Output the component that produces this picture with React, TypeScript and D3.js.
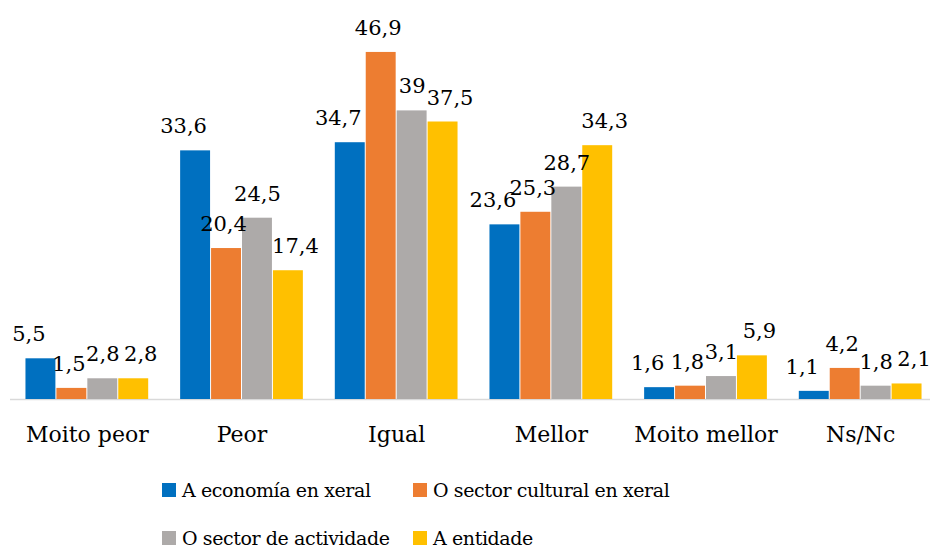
import React, { useEffect, useRef } from 'react';
import * as d3 from 'd3';

const categories = ['Moito peor', 'Peor', 'Igual', 'Mellor', 'Moito mellor', 'Ns/Nc'];
const seriesNames = [
  'A economía en xeral',
  'O sector cultural en xeral',
  'O sector de actividade',
  'A entidade',
];
const economia = [5.5, 33.6, 34.7, 23.6, 1.6, 1.1];
const cultural = [1.5, 20.4, 46.9, 25.3, 1.8, 4.2];
const actividade = [2.8, 24.5, 39, 28.7, 3.1, 1.8];
const entidade = [2.8, 17.4, 37.5, 34.3, 5.9, 2.1];
const seriesValues = [economia, cultural, actividade, entidade];
const colors = ['#0070C0', '#ED7D31', '#ADAAA9', '#FFC000'];

const FONT = '"DejaVu Serif", serif';

const App: React.FC = () => {
  const svgRef = useRef<SVGSVGElement>(null);

  useEffect(() => {
    if (!svgRef.current) return;
    const width = 930;
    const height = 548;
    const baseline = 399;

    d3.select(svgRef.current).selectAll('*').remove();
    const svg = d3.select(svgRef.current).attr('width', width).attr('height', height);

    const x0 = d3
      .scaleBand<string>()
      .domain(categories)
      .range([10, 938])
      .paddingInner(0.2)
      .paddingOuter(0.1);

    const x1 = d3
      .scaleBand<number>()
      .domain(d3.range(seriesNames.length))
      .range([0, x0.bandwidth()]);

    const y = d3.scaleLinear().domain([0, 50]).range([baseline, 29]);

    const rows = categories.flatMap((c, i) =>
      seriesValues.map((vals, s) => ({ cat: c, s, value: vals[i] }))
    );

    // axis line
    svg
      .append('line')
      .attr('x1', 10)
      .attr('x2', width)
      .attr('y1', baseline + 0.5)
      .attr('y2', baseline + 0.5)
      .attr('stroke', '#D9D9D9')
      .attr('stroke-width', 1.5);

    // bars
    svg
      .append('g')
      .selectAll('rect')
      .data(rows)
      .enter()
      .append('rect')
      .attr('x', (d) => (x0(d.cat) || 0) + (x1(d.s) || 0))
      .attr('y', (d) => y(d.value))
      .attr('width', x1.bandwidth() - 1)
      .attr('height', (d) => baseline - y(d.value))
      .attr('fill', (d) => colors[d.s]);

    // value labels, outer series nudged outward like the original
    const shift = [-12, -3, 0, 7];
    svg
      .append('g')
      .selectAll('text')
      .data(rows)
      .enter()
      .append('text')
      .attr('x', (d) => (x0(d.cat) || 0) + (x1(d.s) || 0) + x1.bandwidth() / 2 + shift[d.s])
      .attr('y', (d) => y(d.value) - 17)
      .attr('text-anchor', 'middle')
      .attr('font-family', FONT)
      .attr('font-size', 21)
      .attr('fill', '#000')
      .text((d) => String(d.value).replace('.', ','));

    // category labels
    svg
      .append('g')
      .selectAll('text')
      .data(categories)
      .enter()
      .append('text')
      .attr('x', (d) => (x0(d) || 0) + x0.bandwidth() / 2)
      .attr('y', 442)
      .attr('text-anchor', 'middle')
      .attr('font-family', FONT)
      .attr('font-size', 22)
      .attr('fill', '#000')
      .text((d) => d);

    // legend
    const legendPos = [
      [162, 497],
      [413, 497],
      [162, 545],
      [413, 545],
    ];
    const legend = svg
      .append('g')
      .selectAll('g')
      .data(seriesNames)
      .enter()
      .append('g')
      .attr('transform', (_d, i) => `translate(${legendPos[i][0]},${legendPos[i][1]})`);

    legend
      .append('rect')
      .attr('x', 0)
      .attr('y', -14)
      .attr('width', 14)
      .attr('height', 14)
      .attr('fill', (_d, i) => colors[i]);

    legend
      .append('text')
      .attr('x', 20)
      .attr('y', 0)
      .attr('font-family', FONT)
      .attr('font-size', 19)
      .attr('letter-spacing', -0.4)
      .attr('fill', '#000')
      .text((d) => d);
  }, []);

  return (
    <div style={{ position: 'absolute', left: 0, top: 0, width: 930, height: 548, background: '#fff' }}>
      <svg ref={svgRef} style={{ display: 'block' }}></svg>
    </div>
  );
};

export default App;
